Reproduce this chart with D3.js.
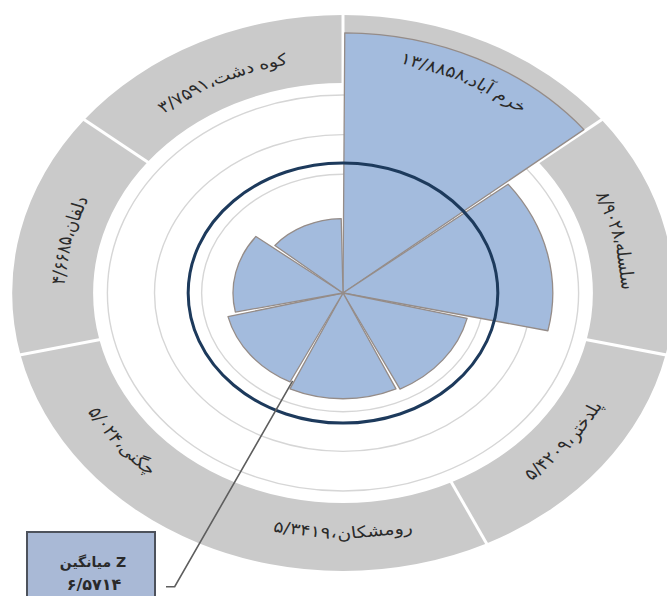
<!DOCTYPE html>
<html lang="fa">
<head>
<meta charset="UTF-8">
<title>Z</title>
<script src="https://d3js.org/d3.v7.min.js"></script>
<style>
  body { margin: 0; background: #fff; }
  svg { display: block; font-family: "DejaVu Sans", sans-serif; }
</style>
</head>
<body>
<div id="chart"></div>
<script>
// data
const counties = ["خرم آباد", "سلسله", "پلدختر", "رومشکان", "چگنی", "دلفان", "کوه دشت"];
const zValues = [13.8858, 8.9028, 5.4209, 5.3419, 5.024, 4.6685, 3.7591];
const meanZ = 6.5714;
const gridTicks = [6, 8, 10];

const W = 667, H = 596;
const cx = 343, cy = 293, sx = 1.19;   // picture is stretched sideways
const ringIn = 210, ringOut = 278, labelR = 239;
const step = 2 * Math.PI / counties.length;
const leaderIdx = 4;
const deg = a => a * 180 / Math.PI;

const fa = v => String(v).replace(".", "/").replace(/\d/g, d => "۰۱۲۳۴۵۶۷۸۹"[d]);

const r = d3.scaleLinear().domain([0, 10, 14]).range([0, 198, 262]);

const svg = d3.select("#chart").append("svg").attr("width", W).attr("height", H);
const g = svg.append("g").attr("transform", `translate(${cx},${cy}) scale(${sx},1)`);

const pt = (a, rad) => [rad * Math.sin(a), -rad * Math.cos(a)];

// outer grey ring
const ringArc = d3.arc().innerRadius(ringIn).outerRadius(ringOut);
g.append("g").selectAll("path").data(counties).join("path")
  .attr("d", (d, i) => ringArc({ startAngle: i * step, endAngle: (i + 1) * step }))
  .attr("fill", "#cacaca");

g.append("g").selectAll("line").data(counties.map((d, i) => i).filter(i => i !== leaderIdx)).join("line")
  .attr("x1", i => pt(i * step, ringIn - 2)[0]).attr("y1", i => pt(i * step, ringIn - 2)[1])
  .attr("x2", i => pt(i * step, ringOut + 2)[0]).attr("y2", i => pt(i * step, ringOut + 2)[1])
  .attr("stroke", "#fff").attr("stroke-width", 3).attr("vector-effect", "non-scaling-stroke");

// grid circles
g.append("g").selectAll("circle").data(gridTicks).join("circle")
  .attr("r", d => r(d)).attr("fill", "none")
  .attr("stroke", "#d6d6d6").attr("stroke-width", 1.4).attr("vector-effect", "non-scaling-stroke");

// sectors
const sectorArc = d3.arc().innerRadius(0).padAngle(0.02).padRadius(150);
g.append("g").selectAll("path").data(zValues).join("path")
  .attr("d", (v, i) => sectorArc({ startAngle: i * step, endAngle: (i + 1) * step, outerRadius: r(v) }))
  .attr("fill", "#a3bbdd").attr("stroke", "#958c88").attr("stroke-width", 1.3)
  .attr("stroke-linejoin", "round").attr("vector-effect", "non-scaling-stroke");

// mean circle
g.append("circle").attr("r", r(meanZ)).attr("fill", "none")
  .attr("stroke", "#1d3a5c").attr("stroke-width", 3).attr("vector-effect", "non-scaling-stroke");

// curved labels: each word placed on its own along the ring
const labels = g.append("g").attr("font-size", 16).attr("fill", "#2a2a2a");
counties.forEach((c, i) => {
  const mid = (i + 0.5) * step;
  const cw = !(mid > Math.PI / 2 && mid < 3 * Math.PI / 2);
  // visual order, left to right
  const pieces = [fa(zValues[i]), "،"].concat(c.split(" ").reverse());
  const gaps = pieces.map((p, k) => (k >= 3 ? 5 : 0));
  const nodes = pieces.map((p, k) => labels.append("text").attr("text-anchor", "middle")
    .attr("dy", "0.36em").attr("letter-spacing", k === 0 ? 1 : 0).text(p));
  const widths = nodes.map(n => n.node().getComputedTextLength());
  const total = d3.sum(widths) + d3.sum(gaps);
  let off = 0;
  nodes.forEach((n, k) => {
    off += gaps[k];
    const s = (off + widths[k] / 2 - total / 2) / labelR;
    off += widths[k];
    const a = cw ? mid + s : mid - s;
    n.attr("transform", cw ? `rotate(${deg(a)}) translate(0,${-labelR})`
                           : `rotate(${deg(a) - 180}) translate(0,${labelR})`);
  });
});

// leader to the mean box
const la = leaderIdx * step;
const toScreen = p => [cx + sx * p[0], cy + p[1]];
const s0 = toScreen(pt(la, r(zValues[leaderIdx]) - 2)), s1 = toScreen(pt(la, 326));
svg.append("path")
  .attr("d", `M${s0[0]},${s0[1]} L${s1[0]},${s1[1]} L166,${s1[1]}`)
  .attr("fill", "none").attr("stroke", "#5e5e5e").attr("stroke-width", 1.6);

const box = svg.append("g").attr("fill", "#2a2a2a").attr("font-weight", "bold");
box.append("rect").attr("x", 27).attr("y", 532).attr("width", 128).attr("height", 80)
  .attr("fill", "#a9b9d6").attr("stroke", "#4d525c").attr("stroke-width", 2);
box.append("text").attr("x", 93).attr("y", 567).attr("text-anchor", "middle")
  .attr("font-size", 14).text("\u200Eمیانگین Z");
box.append("text").attr("x", 94).attr("y", 590).attr("text-anchor", "middle")
  .attr("font-size", 16).attr("letter-spacing", 1).text(fa(meanZ));
</script>
</body>
</html>
